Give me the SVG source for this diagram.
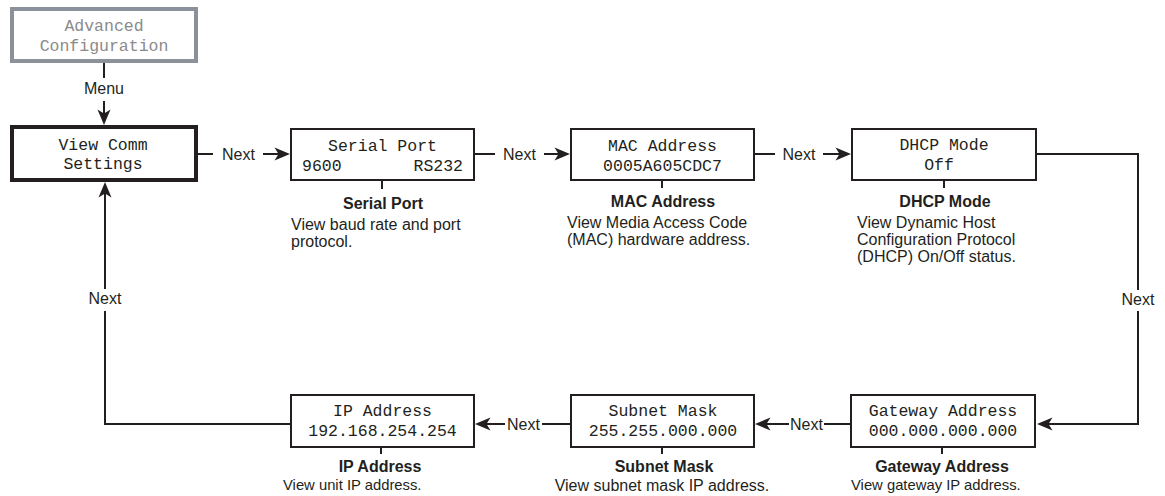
<svg xmlns="http://www.w3.org/2000/svg" width="1165" height="496" viewBox="0 0 1165 496">
<style>
.box{fill:#fff;stroke:#231f20;stroke-width:2}
.lcd{font-family:"Liberation Mono",monospace;font-size:16.5px;fill:#231f20}
.lbl{font-family:"Liberation Sans",Arial,sans-serif;font-size:16px;fill:#231f20}
.ttl{font-family:"Liberation Sans",Arial,sans-serif;font-size:16px;font-weight:bold;fill:#231f20}
.c{text-anchor:middle}
.wire{fill:none;stroke:#231f20;stroke-width:2}
.tick{stroke:#231f20;stroke-width:2}
</style>
<defs>
<marker id="arr" markerUnits="userSpaceOnUse" markerWidth="20" markerHeight="16" viewBox="-6 -8 20 16" refX="0" refY="0" orient="auto" overflow="visible">
<path d="M10,0 L-5.5,-6.5 L-1.5,0 L-5.5,6.5 Z" fill="#231f20"/>
</marker>
</defs>
<rect width="1165" height="496" fill="#fff"/>

<g id="advanced">
<rect x="12" y="9" width="184" height="52" fill="#fff" stroke="#8b919b" stroke-width="4"/>
<text class="lcd c" x="104" y="31" style="fill:#8a8a8a">Advanced</text>
<text class="lcd c" x="104" y="51" style="fill:#8a8a8a">Configuration</text>
</g>

<g id="viewcomm">
<rect x="12" y="127" width="184" height="53" fill="#fff" stroke="#231f20" stroke-width="4"/>
<text class="lcd c" x="103" y="150">View Comm</text>
<text class="lcd c" x="103" y="169">Settings</text>
</g>

<g id="serial">
<rect class="box" x="291" y="129" width="183" height="51"/>
<text class="lcd c" x="382.5" y="151">Serial Port</text>
<text class="lcd" x="302" y="171">9600</text>
<text class="lcd" x="463" y="171" text-anchor="end">RS232</text>
<line class="tick" x1="382" y1="181" x2="382" y2="189"/>
<text class="ttl c" x="383" y="209">Serial Port</text>
<text class="lbl" x="291" y="230">View baud rate and port</text>
<text class="lbl" x="291" y="247">protocol.</text>
</g>

<g id="mac">
<rect class="box" x="571" y="129" width="183" height="51"/>
<text class="lcd c" x="662.5" y="151">MAC Address</text>
<text class="lcd c" x="662.5" y="171">0005A605CDC7</text>
<line class="tick" x1="662" y1="181" x2="662" y2="188"/>
<text class="ttl c" x="663" y="207">MAC Address</text>
<text class="lbl" x="567" y="228">View Media Access Code</text>
<text class="lbl" x="567" y="245">(MAC) hardware address.</text>
</g>

<g id="dhcp">
<rect class="box" x="852" y="129" width="184" height="51"/>
<text class="lcd c" x="944" y="150">DHCP Mode</text>
<text class="lcd c" x="939" y="170">Off</text>
<line class="tick" x1="944" y1="181" x2="944" y2="188"/>
<text class="ttl c" x="945" y="207">DHCP Mode</text>
<text class="lbl" x="857" y="228">View Dynamic Host</text>
<text class="lbl" x="857" y="245">Configuration Protocol</text>
<text class="lbl" x="857" y="262">(DHCP) On/Off status.</text>
</g>

<g id="gateway">
<rect class="box" x="851" y="395" width="184" height="52"/>
<text class="lcd c" x="943" y="416">Gateway Address</text>
<text class="lcd c" x="943" y="436">000.000.000.000</text>
<line class="tick" x1="942" y1="448" x2="942" y2="454"/>
<text class="ttl c" x="942" y="472">Gateway Address</text>
<text class="lbl" x="851" y="490" style="font-size:14.8px">View gateway IP address.</text>
</g>

<g id="subnet">
<rect class="box" x="571" y="395" width="183" height="52"/>
<text class="lcd c" x="663" y="416">Subnet Mask</text>
<text class="lcd c" x="663" y="436">255.255.000.000</text>
<line class="tick" x1="662" y1="448" x2="662" y2="454"/>
<text class="ttl c" x="664" y="472">Subnet Mask</text>
<text class="lbl c" x="662" y="491">View subnet mask IP address.</text>
</g>

<g id="ip">
<rect class="box" x="291" y="395" width="183" height="52"/>
<text class="lcd c" x="382.5" y="416">IP Address</text>
<text class="lcd c" x="382.5" y="436">192.168.254.254</text>
<line class="tick" x1="381" y1="448" x2="381" y2="454"/>
<text class="ttl c" x="380" y="472">IP Address</text>
<text class="lbl" x="283" y="490" style="font-size:14.8px">View unit IP address.</text>
</g>

<g id="connectors">
<line class="wire" x1="104" y1="63" x2="104" y2="78"/>
<text class="lbl c" x="104" y="94">Menu</text>
<line class="wire" x1="104" y1="101" x2="104" y2="115" marker-end="url(#arr)"/>

<line class="wire" x1="198" y1="154" x2="213" y2="154"/>
<text class="lbl c" x="238.5" y="160">Next</text>
<line class="wire" x1="263" y1="154" x2="280" y2="154" marker-end="url(#arr)"/>

<line class="wire" x1="475" y1="154" x2="495" y2="154"/>
<text class="lbl c" x="519.5" y="160">Next</text>
<line class="wire" x1="544" y1="154" x2="560" y2="154" marker-end="url(#arr)"/>

<line class="wire" x1="755" y1="154" x2="775" y2="154"/>
<text class="lbl c" x="799" y="160">Next</text>
<line class="wire" x1="823" y1="154" x2="841" y2="154" marker-end="url(#arr)"/>

<path class="wire" d="M1037,154 H1138 V290"/>
<text class="lbl c" x="1138" y="305">Next</text>
<path class="wire" d="M1138,311 V424 H1047" marker-end="url(#arr)"/>

<line class="wire" x1="850" y1="424" x2="824" y2="424"/>
<text class="lbl c" x="806.5" y="430">Next</text>
<line class="wire" x1="789" y1="424" x2="765" y2="424" marker-end="url(#arr)"/>

<line class="wire" x1="570" y1="424" x2="542" y2="424"/>
<text class="lbl c" x="523.5" y="430">Next</text>
<line class="wire" x1="505" y1="424" x2="485" y2="424" marker-end="url(#arr)"/>

<path class="wire" d="M290,424 H105 V311"/>
<text class="lbl c" x="105" y="304">Next</text>
<line class="wire" x1="105" y1="289" x2="105" y2="192" marker-end="url(#arr)"/>
</g>
</svg>
